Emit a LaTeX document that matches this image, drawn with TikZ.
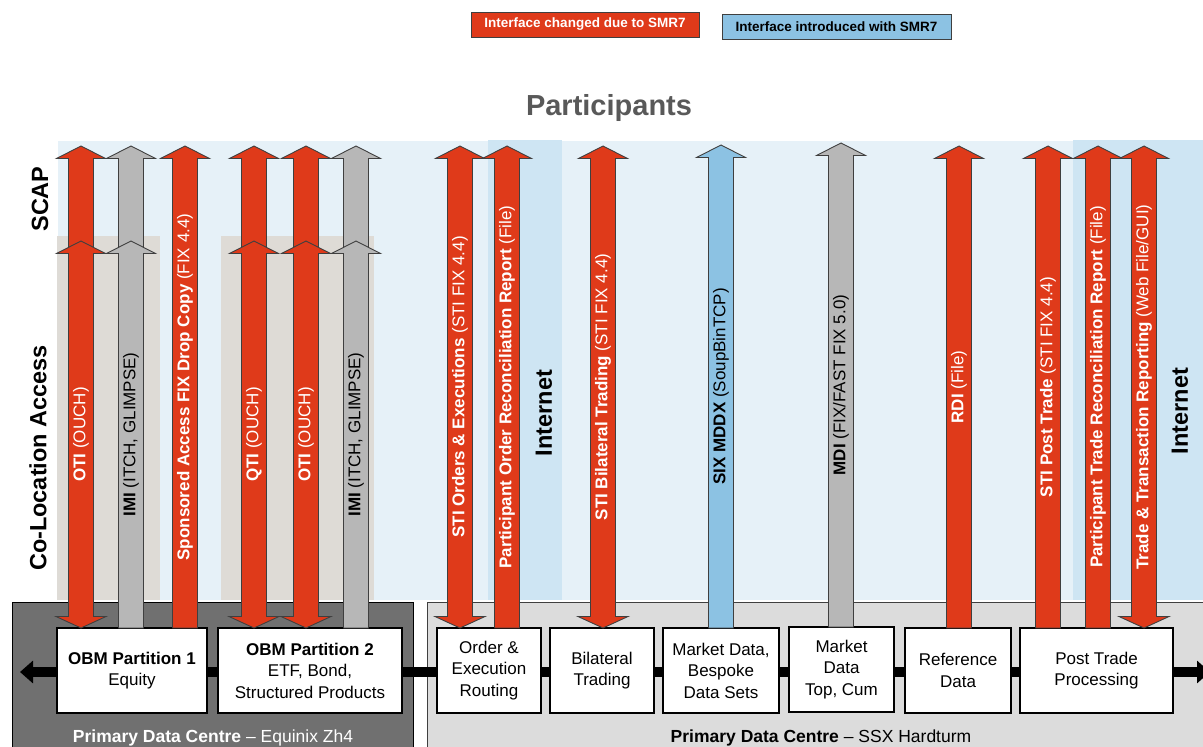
\documentclass[tikz,border=0pt]{standalone}
\usepackage{fontspec}
\setmainfont{Liberation Sans}
\usetikzlibrary{arrows.meta}

\definecolor{smrred}{HTML}{DF3A1A}
\definecolor{arrgrey}{HTML}{B7B7B7}
\definecolor{newblue}{HTML}{8CC2E3}
\definecolor{skyback}{HTML}{E6F1F8}
\definecolor{netblue}{HTML}{CEE5F3}
\definecolor{cologrey}{HTML}{DEDBD6}
\definecolor{dcdark}{HTML}{707070}
\definecolor{dclight}{HTML}{DCDCDC}
\definecolor{titlegrey}{HTML}{595959}
\definecolor{edgegrey}{HTML}{3F3F3F}

% block arrow, head at the top only: x, tip y, foot y, style
\newcommand{\smrup}[4]{%
  \draw[#4] ({#1-12.5},#3) -- ({#1-12.5},{#2+12.5}) -- ({#1-24.5},{#2+12.5}) -- (#1,#2)
    -- ({#1+24.5},{#2+12.5}) -- ({#1+12.5},{#2+12.5}) -- ({#1+12.5},#3) -- cycle;}
% block arrow, heads at both ends: x, top tip y, bottom tip y, style
\newcommand{\smrboth}[4]{%
  \draw[#4] ({#1-12.5},{#3-11.5}) -- ({#1-12.5},{#2+12.5}) -- ({#1-24.5},{#2+12.5}) -- (#1,#2)
    -- ({#1+24.5},{#2+12.5}) -- ({#1+12.5},{#2+12.5}) -- ({#1+12.5},{#3-11.5})
    -- ({#1+25},{#3-11.5}) -- (#1,#3) -- ({#1-25},{#3-11.5}) -- cycle;}

\begin{document}
\begin{tikzpicture}[
  x=1pt, y=-1pt,
  font=\fontsize{17}{21.5}\selectfont,
  redarrow/.style={fill=smrred, draw=edgegrey, line width=0.9pt},
  greyarrow/.style={fill=arrgrey, draw=edgegrey, line width=0.9pt},
  bluearrow/.style={fill=newblue, draw=edgegrey, line width=0.9pt},
  arrowlabel/.style={rotate=90, inner sep=0pt, anchor=center},
  onred/.style={arrowlabel, text=white},
  ongrey/.style={arrowlabel, text=black},
  system/.style={draw=black, line width=1.3pt, fill=white, align=center, minimum height=85pt, inner sep=0pt},
  tier/.style={rotate=90, inner sep=0pt, font=\fontsize{23.5}{28}\selectfont\bfseries},
  legend/.style={draw=edgegrey, line width=0.8pt, minimum height=25pt, inner sep=0pt, font=\fontsize{13.5}{16}\selectfont\bfseries},
  bus/.style={line width=10pt, {Triangle[length=13pt,width=22pt]}-{Triangle[length=13pt,width=22pt]}},
]
  \useasboundingbox (0,0) rectangle (1203,747);
  \clip (0,0) rectangle (1203,747);

  % access zones
  \fill[skyback] (58,141) rectangle (1203,600);
  \fill[cologrey] (57,236) rectangle (160,600);
  \fill[cologrey] (221,236) rectangle (374,600);
  \fill[netblue] (488,140) rectangle (562,600);
  \fill[netblue] (1073,140) rectangle (1203,600);

  % data centres
  \draw[fill=dcdark, draw=black, line width=0.8pt] (12,602) rectangle (413,760);
  \draw[fill=dclight, draw=edgegrey, line width=0.8pt] (427,602) rectangle (1215,760);

  \coordinate (busl) at (20,672);
  \coordinate (busr) at (1210,672);
  \draw[bus] (busl) -- (busr);

  \node[system, minimum width=150pt] (obm1) at (132,670.5) {\textbf{OBM Partition 1}\\Equity};
  \node[system, minimum width=184pt] (obm2) at (310,670.5) {\textbf{OBM Partition 2}\\ETF, Bond,\\Structured Products};
  \node[system, minimum width=104pt] (oer) at (489,670.5) {Order \&\\Execution\\Routing};
  \node[system, minimum width=104pt] (bil) at (602,670.5) {Bilateral\\Trading};
  \node[system, minimum width=116pt] (mdb) at (721,670.5) {Market Data,\\Bespoke\\Data Sets};
  \node[system, minimum width=105pt] (mdt) at (841.5,669.5) {Market\\Data\\Top, Cum};
  \node[system, minimum width=106pt] (ref) at (958,670.5) {Reference\\Data};
  \node[system, minimum width=153pt] (ptp) at (1096.5,670.5) {Post Trade\\Processing};

  \node[text=white, font=\fontsize{17.5}{21}\selectfont] (dczh) at (213,737.5) {\textbf{Primary Data Centre} -- Equinix Zh4};
  \node[font=\fontsize{17.5}{21}\selectfont] (dcssx) at (821,737.5) {\textbf{Primary Data Centre} -- SSX Hardturm};

  % interfaces: SCAP part first, co-location part on top
  \smrup{81}{146}{256}{redarrow}
  \smrup{131}{146}{256}{greyarrow}
  \smrup{254}{146}{256}{redarrow}
  \smrup{306}{146}{256}{redarrow}
  \smrup{356}{146}{256}{greyarrow}
  \smrboth{81}{241}{628}{redarrow}
  \smrup{131}{241}{628}{greyarrow}
  \smrup{185}{146}{628}{redarrow}
  \smrboth{254}{241}{628}{redarrow}
  \smrboth{306}{241}{628}{redarrow}
  \smrup{356}{241}{628}{greyarrow}

  \smrboth{460}{146}{628}{redarrow}
  \smrup{507}{146}{628}{redarrow}
  \smrboth{603}{146}{628}{redarrow}
  \smrup{721}{145}{628}{bluearrow}
  \smrup{841}{143}{627}{greyarrow}
  \smrup{959}{146}{628}{redarrow}
  \smrup{1048}{146}{628}{redarrow}
  \smrup{1098}{146}{628}{redarrow}
  \smrboth{1144}{146}{628}{redarrow}

  \node[onred] (otia) at (81,434.5) {\textbf{OTI} (OUCH)};
  \node[ongrey] (imia) at (131,434.5) {\textbf{IMI} (ITCH, GLIMPSE)};
  \node[onred] (sadc) at (185,387) {\textbf{Sponsored Access FIX Drop Copy} (FIX 4.4)};
  \node[onred] (qti) at (254,434.5) {\textbf{QTI} (OUCH)};
  \node[onred] (otib) at (306,434.5) {\textbf{OTI} (OUCH)};
  \node[ongrey] (imib) at (356,434.5) {\textbf{IMI} (ITCH, GLIMPSE)};
  \node[onred] (stioe) at (460,387) {\textbf{STI Orders \& Executions} (STI FIX 4.4)};
  \node[onred] (porr) at (507,387) {\textbf{Participant Order Reconciliation Report} (File)};
  \node[onred] (stibt) at (603,387) {\textbf{STI Bilateral Trading} (STI FIX 4.4)};
  \node[ongrey] (mddx) at (721,386.5) {\textbf{SIX MDDX} (SoupBinTCP)};
  \node[ongrey] (mdi) at (841,385) {\textbf{MDI} (FIX/FAST FIX 5.0)};
  \node[onred] (rdi) at (959,387) {\textbf{RDI} (File)};
  \node[onred] (stipt) at (1048,387) {\textbf{STI Post Trade} (STI FIX 4.4)};
  \node[onred] (ptrr) at (1098,387) {\textbf{Participant Trade Reconciliation Report} (File)};
  \node[onred] (ttr) at (1144,387) {\textbf{Trade \& Transaction Reporting} (Web File/GUI)};

  \node[tier] (scap) at (40,199) {SCAP};
  \node[tier] (colo) at (38,458) {Co-Location Access};
  \node[tier] (neta) at (544,413) {Internet};
  \node[tier] (netb) at (1180,411) {Internet};

  \node[text=titlegrey, font=\fontsize{29}{34}\selectfont\bfseries] (title) at (609,108) {Participants};

  \node[legend, fill=smrred, text=white, minimum width=228pt] (legchg) at (585,24.5) {Interface changed due to SMR7};
  \node[legend, fill=newblue, text=black, minimum width=229pt] (legnew) at (836.5,26.5) {Interface introduced with SMR7};
\end{tikzpicture}
\end{document}
